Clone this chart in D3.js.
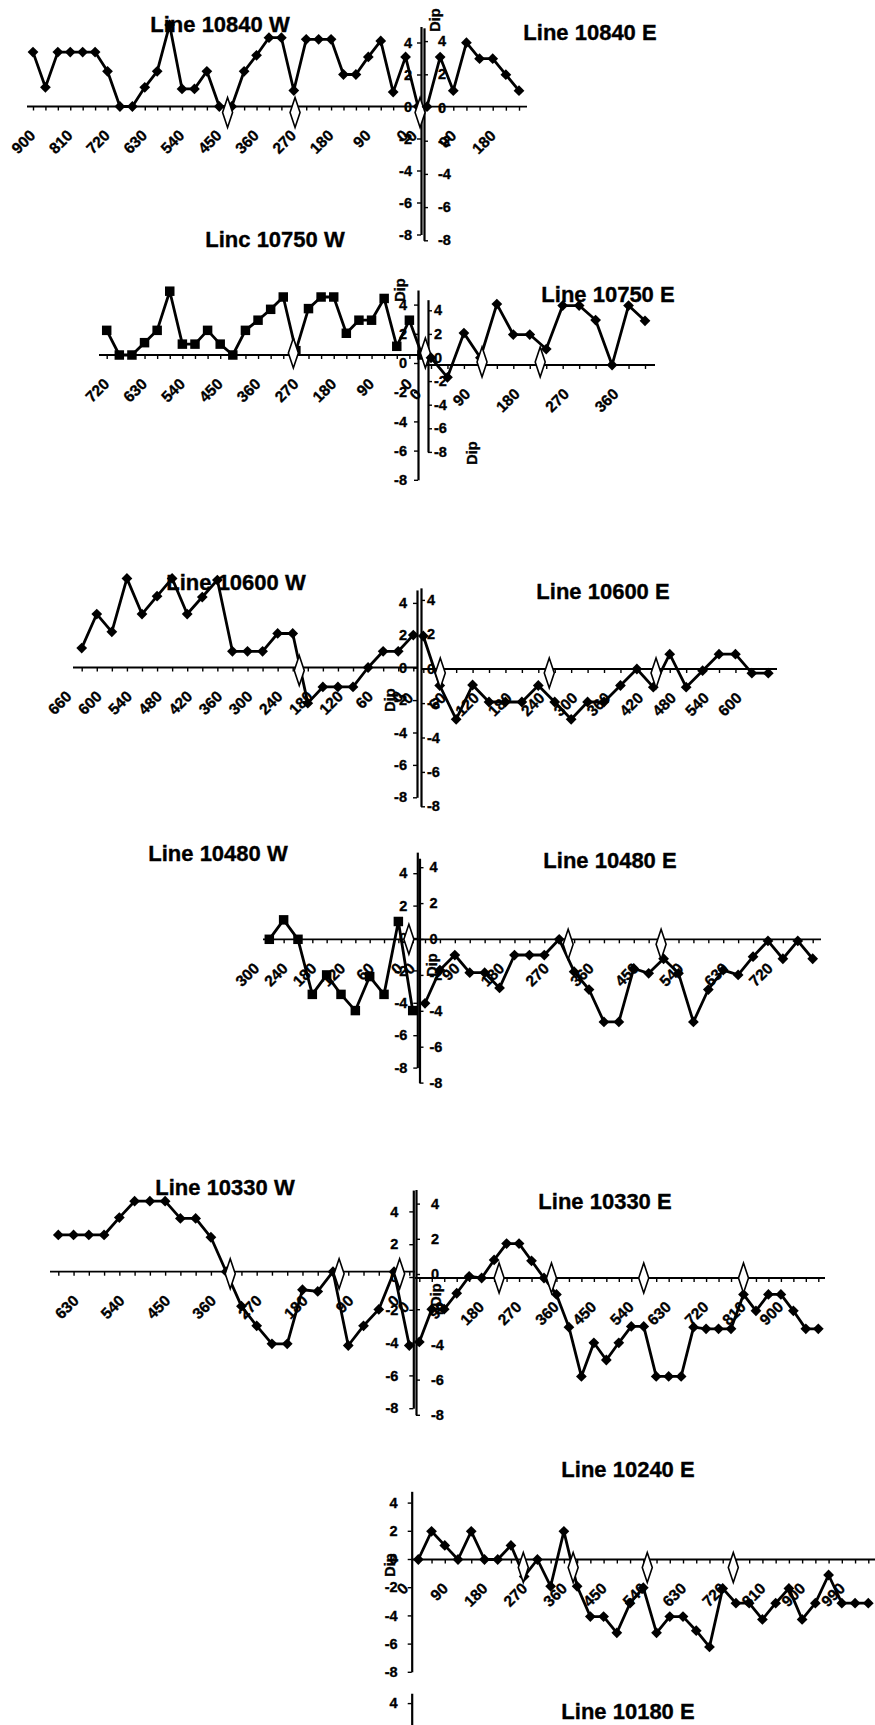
<!DOCTYPE html>
<html>
<head>
<meta charset="utf-8">
<script src="https://cdn.jsdelivr.net/npm/d3@7"></script>
<style>
  body { margin: 0; background: #fff; }
  svg { display: block; font-family: "Liberation Sans", Arial, sans-serif; font-weight: bold; }
  svg text { stroke: #000; stroke-width: 0.35px; }
</style>
</head>
<body>
<svg width="875" height="1725"></svg>
<script>
// distances along each survey line (m) and the dip read at each station
const dist10840W = [930, 900, 870, 840, 810, 780, 750, 720, 690, 660, 630, 600, 570, 540, 510, 480, 450, 420, 390, 360, 330, 300, 270, 240, 210, 180, 150, 120, 90, 60, 30, 0];
const dip10840W = [3.4, 1.2, 3.4, 3.4, 3.4, 3.4, 2.2, 0, 0, 1.2, 2.2, 5.1, 1.1, 1.1, 2.2, 0, 0, 2.2, 3.2, 4.3, 4.3, 1.0, 4.2, 4.2, 4.2, 2.0, 2.0, 3.1, 4.1, 0.9, 3.1, 0];
const dist10840E = [0, 30, 60, 90, 120, 150, 180, 210];
const dip10840E = [0, 3.1, 1.0, 4.0, 3.0, 3.0, 2.0, 1.0];

const dist10750W = [750, 720, 690, 660, 630, 600, 570, 540, 510, 480, 450, 420, 390, 360, 330, 300, 270, 240, 210, 180, 150, 120, 90, 60, 30, 0];
const dip10750W = [1.7, 0, 0, 0.85, 1.7, 4.4, 0.75, 0.75, 1.7, 0.75, 0, 1.7, 2.4, 3.15, 4.0, 0.3, 3.2, 4.0, 4.0, 1.5, 2.4, 2.4, 3.9, 0.6, 2.4, 0];
const dist10750E = [0, 30, 60, 90, 120, 150, 180, 210, 240, 270, 300, 330, 360, 390];
const dip10750E = [0.5, -0.85, 2.2, 0.5, 4.2, 2.1, 2.1, 1.1, 4.1, 4.1, 3.1, 0, 4.1, 3.05];

const dist10600W = [660, 630, 600, 570, 540, 510, 480, 450, 420, 390, 360, 330, 300, 270, 240, 210, 180, 150, 120, 90, 60, 30, 0];
const dip10600W = [1.2, 3.3, 2.2, 5.5, 3.3, 4.4, 5.5, 3.3, 4.35, 5.4, 1.0, 1.0, 1.0, 2.1, 2.1, -2.2, -1.2, -1.2, -1.2, 0, 1.0, 1.0, 2.0];
const dist10600E = [0, 30, 60, 90, 120, 150, 180, 210, 240, 270, 300, 330, 360, 390, 420, 450, 480, 510, 540, 570, 600, 630];
const dip10600E = [2.0, -1.0, -3.05, -0.97, -2.0, -2.0, -2.0, -1.0, -2.0, -3.05, -2.0, -2.0, -1.0, 0, -1.1, 0.9, -1.1, -0.1, 0.9, 0.9, -0.25, -0.25];

const dist10480W = [300, 270, 240, 210, 180, 150, 120, 90, 60, 30, 0];
const dip10480W = [0, 1.2, 0, -3.4, -2.2, -3.4, -4.4, -2.3, -3.4, 1.1, -4.4];
const dist10480E = [0, 30, 60, 90, 120, 150, 180, 210, 240, 270, 300, 330, 360, 390, 420, 450, 480, 510, 540, 570, 600, 630, 660, 690, 720, 750, 780];
const dip10480E = [-3.95, -1.9, -0.97, -2.06, -2.06, -3.0, -0.97, -0.97, -0.97, 0, -2.0, -3.1, -5.1, -5.1, -1.8, -2.1, -1.2, -2.1, -5.1, -3.1, -1.9, -2.2, -1.07, -0.1, -1.2, -0.1, -1.2];

const dist10330W = [690, 660, 630, 600, 570, 540, 510, 480, 450, 420, 390, 360, 330, 300, 270, 240, 210, 180, 150, 120, 90, 60, 30, 0];
const dip10330W = [2.24, 2.24, 2.24, 2.24, 3.3, 4.3, 4.3, 4.3, 3.25, 3.25, 2.1, 0, -2.1, -3.3, -4.4, -4.4, -1.1, -1.2, 0, -4.5, -3.3, -2.3, 0, -4.5];
const dist10330E = [0, 30, 60, 90, 120, 150, 180, 210, 240, 270, 300, 330, 360, 390, 420, 450, 480, 510, 540, 570, 600, 630, 660, 690, 720, 750, 780, 810, 840, 870, 900, 930, 960];
const dip10330E = [-3.9, -1.9, -1.9, -0.93, 0.1, 0, 1.1, 2.1, 2.1, 1.05, 0, -1.0, -3.0, -6.0, -3.95, -5.0, -3.95, -2.95, -2.95, -6.0, -6.0, -6.0, -3.0, -3.1, -3.1, -3.1, -1.0, -2.0, -1.0, -1.0, -2.0, -3.1, -3.1];

const dist10240E = [0, 30, 60, 90, 120, 150, 180, 210, 240, 270, 300, 330, 360, 390, 420, 450, 480, 510, 540, 570, 600, 630, 660, 690, 720, 750, 780, 810, 840, 870, 900, 930, 960, 990, 1020];
const dip10240E = [0, 2.0, 1.0, 0, 2.0, 0, 0, 1.0, -1.2, 0, -1.9, 2.0, -1.9, -4.05, -4.05, -5.2, -3.1, -2.0, -5.2, -4.05, -4.05, -5.05, -6.2, -2.05, -3.1, -3.1, -4.25, -3.1, -2.05, -4.25, -3.1, -1.1, -3.1, -3.1, -3.1];

// distance labels shown under each x axis
const ticks10840W = [900, 810, 720, 630, 540, 450, 360, 270, 180, 90, 0];
const ticks10840E = [0, 90, 180];
const ticks10750W = [720, 630, 540, 450, 360, 270, 180, 90, 0];
const ticks10750E = [0, 90, 180, 270, 360];
const ticks10600W = [660, 600, 540, 480, 420, 360, 300, 240, 180, 120, 60, 0];
const ticks10600E = [0, 60, 120, 180, 240, 300, 360, 420, 480, 540, 600];
const ticks10480W = [300, 240, 180, 120, 60, 0];
const ticks10480E = [0, 90, 180, 270, 360, 450, 540, 630, 720];
const ticks10330W = [630, 540, 450, 360, 270, 180, 90, 0];
const ticks10330E = [0, 90, 180, 270, 360, 450, 540, 630, 720, 810, 900];
const ticks10240E = [0, 90, 180, 270, 360, 450, 540, 630, 720, 810, 900, 990];

// open diamond flags along the lines (distance, m)
const marks10840W = [460, 297, -5];
const marks10840E = [];
const marks10750W = [306, -8];
const marks10750E = [93, 199];
const marks10600W = [227];
const marks10600E = [31, 230, 425];
const marks10480W = [8];
const marks10480E = [288, 475];
const marks10330W = [352, 138, 19];
const marks10330E = [192, 318, 540, 780];
const marks10240E = [238, 351, 519, 714];

const dipTicks = [-8, -6, -4, -2, 0, 2, 4];
const dipTicksCut = [4]; // only the top of the 10180 E axis is on the page

// ---- layout of the pasted-together panels ----
const charts = [
  { dist: dist10840W, dip: dip10840W, ticks: ticks10840W, marks: marks10840W, px: [33, 418], zero: 106.5, unit: 16, line: [27, 421], shape: "diamond", markDy: 6 },
  { dist: dist10840E, dip: dip10840E, ticks: ticks10840E, marks: marks10840E, px: [427, 519], zero: 106.7, unit: 16, line: [423, 527], shape: "diamond", markDy: 6 },
  { dist: dist10750W, dip: dip10750W, ticks: ticks10750W, marks: marks10750W, px: [106.7, 422], zero: 355, unit: 14.5, line: [99, 420], shape: "square", markDy: -2 },
  { dist: dist10750E, dip: dip10750E, ticks: ticks10750E, marks: marks10750E, px: [431, 645], zero: 365, unit: 14.5, line: [427, 655], shape: "diamond", markDy: -3 },
  { dist: dist10600W, dip: dip10600W, ticks: ticks10600W, marks: marks10600W, px: [81.7, 413.3], zero: 667.5, unit: 16.2, line: [73, 418], shape: "diamond", markDy: 3 },
  { dist: dist10600E, dip: dip10600E, ticks: ticks10600E, marks: marks10600E, px: [423.3, 768.3], zero: 669, unit: 16.5, line: [421, 777], shape: "diamond", markDy: 4 },
  { dist: dist10480W, dip: dip10480W, ticks: ticks10480W, marks: marks10480W, px: [269.3, 412.7], zero: 939.3, unit: 16.2, line: [263, 417], shape: "square", markDy: 0 },
  { dist: dist10480E, dip: dip10480E, ticks: ticks10480E, marks: marks10480E, px: [425, 812.7], zero: 939.3, unit: 16.2, line: [417, 821], shape: "diamond", markDy: 5 },
  { dist: dist10330W, dip: dip10330W, ticks: ticks10330W, marks: marks10330W, px: [58.3, 409.3], zero: 1271.7, unit: 16.4, line: [50, 415], shape: "diamond", markDy: 2 },
  { dist: dist10330E, dip: dip10330E, ticks: ticks10330E, marks: marks10330E, px: [419.3, 818.3], zero: 1278, unit: 16.4, line: [415, 825], shape: "diamond", markDy: 0 },
  { dist: dist10240E, dip: dip10240E, ticks: ticks10240E, marks: marks10240E, px: [418.3, 868.3], zero: 1559.5, unit: 14.1, line: [411.7, 875], shape: "diamond", markDy: 8 }
];

const yAxes = [
  { x: 421, zero: 106.5, unit: 16, top: 5, bottom: -8, side: "left", pad: 5, ticks: dipTicks },
  { x: 424, zero: 107.5, unit: 16.6, top: 4.8, bottom: -8, side: "right", pad: 10, ticks: dipTicks },
  { x: 418, zero: 363, unit: 14.6, top: 5, bottom: -8, side: "left", pad: 7, ticks: dipTicks },
  { x: 428, zero: 357.5, unit: 11.8, top: 4.9, bottom: -8, side: "right", pad: 2, ticks: dipTicks },
  { x: 417, zero: 667.7, unit: 16.2, top: 4.8, bottom: -8, side: "left", pad: 6, ticks: dipTicks },
  { x: 421, zero: 668.7, unit: 17.2, top: 4.7, bottom: -8, side: "right", pad: 2, ticks: dipTicks },
  { x: 417.3, zero: 938, unit: 16.2, top: 5.3, bottom: -8, side: "left", pad: 6, ticks: dipTicks },
  { x: 419.5, zero: 939, unit: 17.95, top: 4.5, bottom: -8, side: "right", pad: 6, ticks: dipTicks },
  { x: 413.3, zero: 1277, unit: 16.4, top: 5.3, bottom: -8, side: "left", pad: 11, ticks: dipTicks },
  { x: 416, zero: 1274, unit: 17.6, top: 4.8, bottom: -8, side: "right", pad: 11, ticks: dipTicks },
  { x: 411.7, zero: 1559, unit: 14.1, top: 4.8, bottom: -8, side: "left", pad: 10, ticks: dipTicks },
  { x: 411.7, zero: 1759.5, unit: 14.1, top: 4.7, bottom: 2.4, side: "left", pad: 10, ticks: dipTicksCut }
];

const titles = [
  { text: "Line 10840 W", x: 220, y: 32 },
  { text: "Line 10840 E", x: 590, y: 40 },
  { text: "Linc 10750 W", x: 275, y: 247 },
  { text: "Line 10750 E", x: 608, y: 302 },
  { text: "Line 10600 W", x: 236, y: 590 },
  { text: "Line 10600 E", x: 603, y: 599 },
  { text: "Line 10480 W", x: 218, y: 861 },
  { text: "Line 10480 E", x: 610, y: 868 },
  { text: "Line 10330 W", x: 225, y: 1195 },
  { text: "Line 10330 E", x: 605, y: 1209 },
  { text: "Line 10240 E", x: 628, y: 1477 },
  { text: "Line 10180 E", x: 628, y: 1719 }
];

const dipLabels = [
  { x: 435, y: 20 }, { x: 400, y: 290 }, { x: 472, y: 453 }, { x: 390, y: 700 },
  { x: 432, y: 965 }, { x: 436, y: 1295 }, { x: 390, y: 1565 }
];

const svg = d3.select("svg");
const back = svg.append("g");
const front = svg.append("g");

// y axes
yAxes.forEach((a) => {
  const y = d3.scaleLinear([a.bottom, a.top], [a.zero - a.bottom * a.unit, a.zero - a.top * a.unit]);
  const axis = (a.side === "left" ? d3.axisLeft(y) : d3.axisRight(y))
    .tickValues(a.ticks)
    .tickFormat((d) => String(d))
    .tickSize(4)
    .tickSizeOuter(0)
    .tickPadding(a.pad);
  const g = back.append("g").attr("transform", `translate(${a.x},0)`).call(axis);
  g.select(".domain").attr("stroke-width", 2.2);
  g.selectAll(".tick line").attr("stroke-width", 1.4);
  g.selectAll("text").attr("font-size", 14.5).attr("font-weight", "bold")
    .attr("font-family", '"Liberation Sans", Arial, sans-serif');
});

titles.forEach((t) => {
  back.append("text").attr("x", t.x).attr("y", t.y).attr("text-anchor", "middle")
    .attr("font-size", 22).text(t.text);
});

dipLabels.forEach((d) => {
  back.append("text").attr("transform", `translate(${d.x},${d.y}) rotate(-90)`)
    .attr("text-anchor", "middle").attr("dy", "0.35em").attr("font-size", 14.5).text("Dip");
});

charts.forEach((c) => {
  const x = d3.scaleLinear([c.dist[0], c.dist[c.dist.length - 1]], c.px);
  const y = d3.scaleLinear([0, 1], [c.zero, c.zero - c.unit]);

  back.append("line")
    .attr("x1", c.line[0]).attr("x2", c.line[1])
    .attr("y1", y(0)).attr("y2", y(0))
    .attr("stroke", "#000").attr("stroke-width", 1.8);

  back.append("g").attr("transform", `translate(0,${y(0)})`)
    .call(d3.axisBottom(x).tickValues(c.dist).tickSize(4).tickSizeOuter(0).tickFormat(""))
    .call((g) => g.select(".domain").remove())
    .selectAll("line").attr("stroke-width", 1.4);

  back.append("g").selectAll("text").data(c.ticks).join("text")
    .attr("transform", (d) => `translate(${x(d) - 9},${y(0) + 30}) rotate(-45)`)
    .attr("text-anchor", "end").attr("font-size", 15.5)
    .text((d) => d);

  const line = d3.line().x((d, i) => x(c.dist[i])).y((d) => y(d));
  front.append("path").datum(c.dip).attr("d", line)
    .attr("fill", "none").attr("stroke", "#000").attr("stroke-width", 2.8)
    .attr("stroke-linejoin", "round");

  const sym = c.shape === "square"
    ? d3.symbol(d3.symbolSquare, 90)
    : d3.symbol(d3.symbolSquare, 58);
  front.append("g").selectAll("path").data(c.dip).join("path")
    .attr("d", sym)
    .attr("transform", (d, i) => `translate(${x(c.dist[i])},${y(d)})` + (c.shape === "square" ? "" : " rotate(45)"))
    .attr("fill", "#000");

  front.append("g").selectAll("path").data(c.marks).join("path")
    .attr("d", "M0,-15L5,0L0,15L-5,0Z")
    .attr("transform", (d) => `translate(${x(d)},${y(0) + c.markDy})`)
    .attr("fill", "#fff").attr("stroke", "#000").attr("stroke-width", 1.6);
});
</script>
</body>
</html>
